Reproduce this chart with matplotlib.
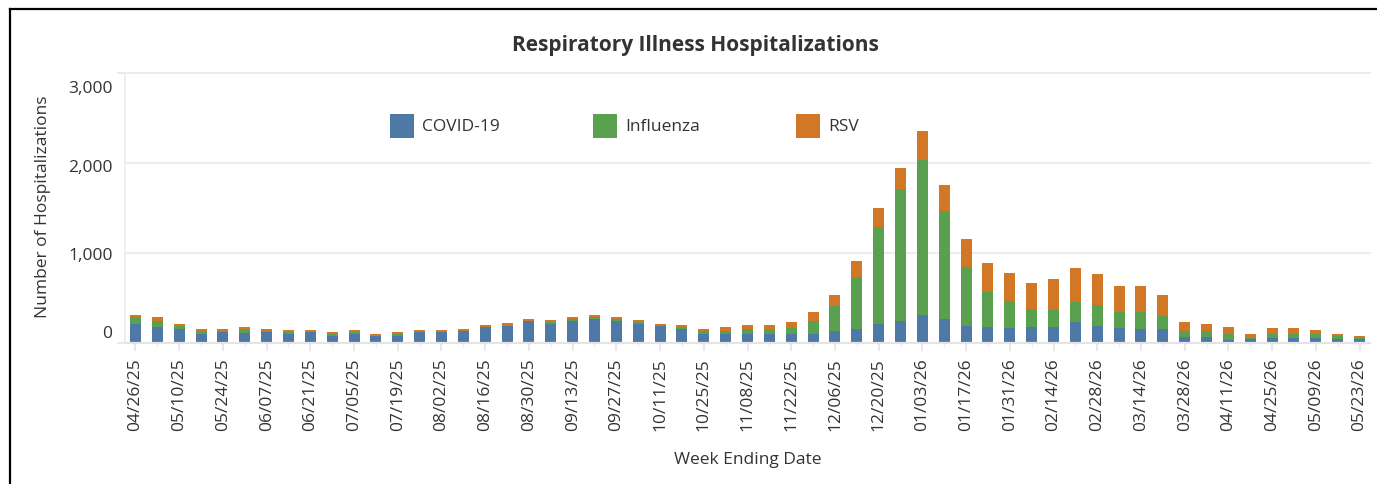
import matplotlib
matplotlib.use("Agg")
import matplotlib.pyplot as plt
import matplotlib.transforms as mtransforms
from matplotlib.lines import Line2D
from matplotlib.patches import Rectangle
import numpy as np
import pandas as pd

plt.rcParams['font.family'] = ['Open Sans', 'DejaVu Sans']

# ---- data ----
week_ending = pd.date_range('2025-04-26', periods=57, freq='7D').strftime('%m/%d/%y').tolist()

covid = [211, 178, 155, 100, 122, 111, 122, 100, 122, 78,
         100, 78, 78, 122, 122, 133, 178, 189, 244, 211,
         244, 266, 244, 211, 189, 155, 100, 100, 100, 100,
         100, 100, 133, 155, 211, 244, 311, 266, 189, 178,
         167, 178, 178, 233, 189, 167, 155, 155, 67, 67,
         33, 44, 55, 55, 55, 44, 44]
influenza = [78, 67, 30, 33, 11, 44, 11, 18, 0, 22,
             22, 0, 22, 0, 0, 0, 0, 0, 0, 22,
             22, 22, 22, 22, 0, 22, 33, 33, 55, 55,
             67, 144, 278, 578, 1077, 1466, 1721, 1200, 655, 388,
             299, 199, 188, 222, 233, 177, 189, 145, 66, 66,
             67, 11, 45, 45, 45, 34, 11]
rsv = [22, 44, 26, 22, 22, 22, 22, 26, 22, 22,
       22, 22, 22, 22, 22, 22, 22, 33, 22, 22,
       22, 22, 22, 22, 22, 22, 22, 44, 44, 44,
       67, 100, 122, 178, 211, 233, 322, 289, 311, 322,
       311, 289, 345, 378, 344, 289, 289, 233, 100, 78,
       78, 45, 66, 66, 44, 22, 23]

series_names = ['COVID-19', 'Influenza', 'RSV']
colors = ['#4E79A7', '#59A14F', '#D27726']
y_ticks = [0, 1000, 2000, 3000]

W, H = 1377, 485
fig = plt.figure(figsize=(W / 100, H / 100), dpi=100)
fig.patch.set_facecolor('white')

left, right, top, bottom = 125, 1370, 74, 344
ax = fig.add_axes([left / W, 1 - bottom / H, (right - left) / W, (bottom - top) / H])

x = np.arange(len(week_ending))
bottoms = np.zeros(len(x))
for vals, c in zip([covid, influenza, rsv], colors):
    ax.bar(x, vals, width=0.5, bottom=bottoms, color=c, zorder=3, linewidth=0)
    bottoms += np.array(vals)

ax.set_xlim(-0.48, len(x) - 0.52)
ax.set_ylim(0, 3000)

# grid
for v in y_ticks[1:]:
    ax.axhline(v, color='#ebebeb', lw=1.3, zorder=1, clip_on=False)

for s in ['top', 'right']:
    ax.spines[s].set_visible(False)
ax.spines['left'].set_color('#ececec')
ax.spines['left'].set_linewidth(1.2)
ax.spines['bottom'].set_color('#e4e4e4')
ax.spines['bottom'].set_linewidth(1.6)
ax.spines['bottom'].set_zorder(4)

ax.set_yticks(y_ticks)
ax.set_yticklabels([f'{v:,}' for v in y_ticks])
ax.tick_params(axis='y', length=6, width=1.2, color='#e6e6e6', pad=3,
               labelsize=12.5, labelcolor='#333333')
offsets = {0: 12, 1000: 0, 2000: -2, 3000: -13}
for tick, v in zip(ax.yaxis.get_major_ticks(), y_ticks):
    if v in (1000, 2000):
        tick.tick1line.set_visible(False)
    lab = tick.label1
    lab.set_transform(lab.get_transform() +
                      mtransforms.ScaledTranslation(0, offsets[v] / 100, fig.dpi_scale_trans))

ax.set_xticks(x[::2])
ax.set_xticklabels(week_ending[::2], rotation=90)
ax.set_xticks(x[1::2], minor=True)
ax.tick_params(axis='x', which='major', length=5.5, width=1.2, color='#e4e4e4', pad=5,
               labelsize=12.5, labelcolor='#333333')
ax.tick_params(axis='x', which='minor', length=3, width=1.0, color='#eeeeee')

ax.set_ylabel('Number of Hospitalizations', fontsize=12.5, color='#333333')
ax.yaxis.set_label_coords(-0.0594, 0.51)
ax.set_xlabel('Week Ending Date', fontsize=12.5, color='#333333')
ax.xaxis.set_label_coords(0.5, -0.40)

fig.text(695 / W, 1 - 45 / H, 'Respiratory Illness Hospitalizations', ha='center', va='center',
         fontsize=15, fontweight='bold', color='#333333')

# legend (manual, equal spacing)
leg_x = [390, 593, 796]
for lx, name, c in zip(leg_x, series_names, colors):
    fig.patches.append(Rectangle((lx / W, 1 - 139 / H), 24 / W, 24 / H,
                                 transform=fig.transFigure, facecolor=c, edgecolor='none'))
    fig.text((lx + 32) / W, 1 - 127 / H, name, ha='left', va='center',
             fontsize=12.5, color='#333333')

# outer frame (left + top)
fig.add_artist(Line2D([9.5 / W, 9.5 / W], [0, 1 - 10 / H], transform=fig.transFigure,
                      color='black', lw=1.6))
fig.add_artist(Line2D([9.5 / W, 1], [1 - 10 / H, 1 - 10 / H], transform=fig.transFigure,
                      color='black', lw=1.6))

fig.savefig('out.png', dpi=100, facecolor='white')
